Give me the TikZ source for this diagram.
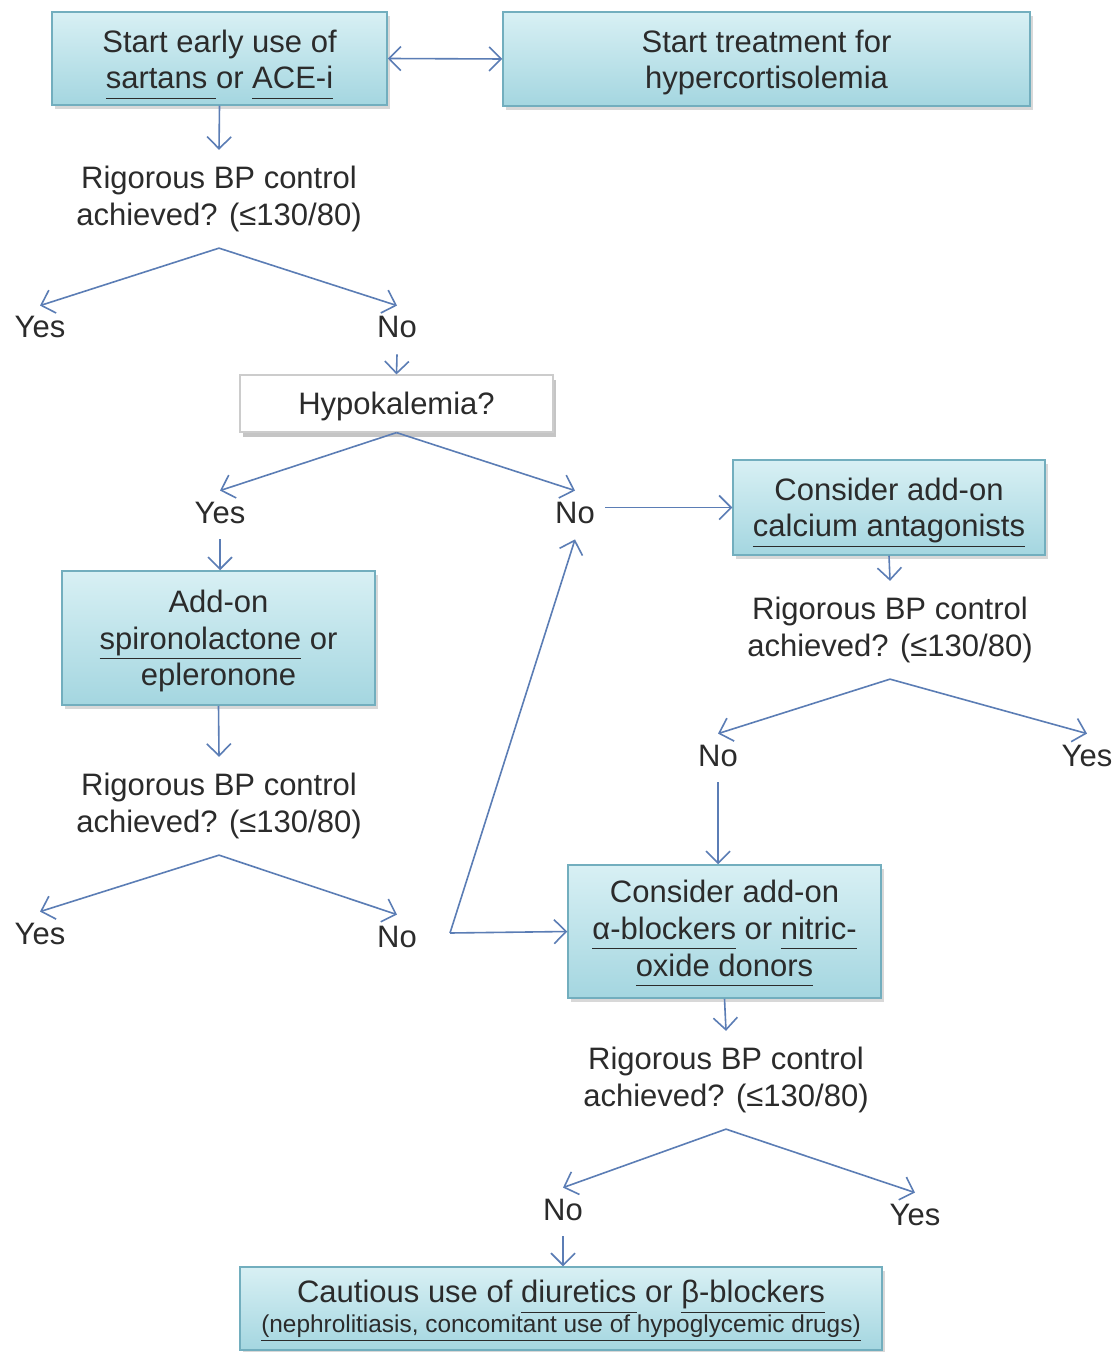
\documentclass[tikz,border=0pt]{standalone}
\usepackage{fontspec}
\setmainfont{Liberation Sans}
\usepackage{xcolor}
\usetikzlibrary{arrows.meta,positioning,shadows}

\definecolor{flowblue}{HTML}{5B7DB5}
\definecolor{boxedge}{HTML}{72AEBE}
\definecolor{boxtop}{HTML}{D8F0F4}
\definecolor{boxbottom}{HTML}{A4D6E0}
\definecolor{inkgray}{HTML}{2B2B2B}

\newcommand{\ulin}[1]{\underline{#1\vphantom{gp}}}
\newcommand{\liftline}[1]{\rule{0pt}{#1}}

\tikzset{
  txt/.style={text=inkgray, align=center, font=\fontsize{15.5}{18.3}\selectfont},
  tealbox/.style={txt, draw=boxedge, line width=0.75pt, top color=boxtop, bottom color=boxbottom, inner sep=0pt,
    drop shadow={shadow xshift=1.5pt, shadow yshift=-2pt, opacity=0.3}},
  whitebox/.style={txt, draw=gray!40, line width=0.6pt, fill=white, inner sep=0pt,
    drop shadow={shadow xshift=1.5pt, shadow yshift=-2.5pt, opacity=0.45}},
  question/.style={txt, inner sep=8pt},
  answer/.style={txt, inner sep=5pt, text height=11pt, text depth=3pt},
  arr/.style={draw=flowblue, line width=0.8pt, -{Straight Barb[length=6pt,width=12pt]}},
  arrboth/.style={arr, {Straight Barb[length=6pt,width=12pt]}-{Straight Barb[length=6pt,width=12pt]}},
}

\begin{document}
\begin{tikzpicture}[x=0.5pt,y=-0.5pt]
\useasboundingbox (0,0) rectangle (1114,1352);
\fill[white] (0,0) rectangle (1114,1352);

\node[tealbox, minimum width=167.5pt, minimum height=46.5pt] (start) at (219.5,58.5) {\liftline{17.3pt}Start early use of\\\ulin{sartans }or \ulin{ACE-i}};
\node[tealbox, minimum width=263.5pt, minimum height=47pt] (cortiso) at (766.5,59) {\liftline{14.8pt}Start treatment for\\hypercortisolemia};
\node[question] (q1) at (219,199) {Rigorous BP control\\achieved? (≤130/80)};
\node[answer] (yes1) at (40,330) {Yes};
\node[answer] (no1) at (397,330) {No};
\node[whitebox, minimum width=156.5pt, minimum height=28.5pt] (hypok) at (396.5,403.5) {\liftline{14.3pt}Hypokalemia?};
\node[answer] (yes2) at (220,515) {Yes};
\node[answer] (no2) at (575,515) {No};
\node[tealbox, minimum width=156pt, minimum height=47.5pt] (calcium) at (889,507.5) {\liftline{16.3pt}Consider add-on\\\ulin{calcium antagonists}};
\node[tealbox, minimum width=156.5pt, minimum height=67pt] (spiro) at (218.5,638) {\liftline{14.3pt}Add-on\\\ulin{spironolactone} or\\epleronone};
\node[question] (q2) at (219,806) {Rigorous BP control\\achieved? (≤130/80)};
\node[answer] (yes3) at (40,936) {Yes};
\node[answer] (no3) at (397,939) {No};
\node[question] (q3) at (890,630) {Rigorous BP control\\achieved? (≤130/80)};
\node[answer] (no4) at (718,758) {No};
\node[answer] (yes4) at (1087,758) {Yes};
\node[tealbox, minimum width=156.5pt, minimum height=66.5pt] (alpha) at (724.5,931.5) {\liftline{13.3pt}Consider add-on\\\ulin{α-blockers} or \ulin{nitric-}\\\ulin{oxide donors}};
\node[question] (q4) at (726,1080) {Rigorous BP control\\achieved? (≤130/80)};
\node[answer] (no5) at (563,1212) {No};
\node[answer] (yes5) at (915,1217) {Yes};
\node[tealbox, minimum width=321pt, minimum height=41.5pt] (cautious) at (561,1308.5) {\liftline{13.8pt}Cautious use of \ulin{diuretics} or \ulin{β-blockers}\\[-3.3pt]{\fontsize{12.2}{14}\selectfont\ulin{(nephrolitiasis, concomitant use of hypoglycemic drugs)}}};
\coordinate (join) at (450,933);

\draw[arrboth] (start.east) -- (cortiso.west);
\draw[arr] (start.south) -- (q1.north);
\draw[arr] (q1.south) -- (yes1.north);
\draw[arr] (q1.south) -- (no1.north);
\draw[arr] (no1.south) -- (hypok.north);
\draw[arr] (hypok.south) -- (yes2.north);
\draw[arr] (hypok.south) -- (no2.north);
\draw[arr] (no2.east |- calcium.west) -- (calcium.west);
\draw[arr] (yes2.south) -- (yes2.south |- spiro.north);
\draw[arr] (spiro.south) -- (q2.north);
\draw[arr] (q2.south) -- (yes3.north);
\draw[arr] (q2.south) -- (no3.north);
\draw[arr] (join) -- (no2.south);
\draw[arr] (join) -- (alpha.west);
\draw[arr] (calcium.south) -- (q3.north);
\draw[arr] (q3.south) -- (no4.north);
\draw[arr] (q3.south) -- (yes4.north);
\draw[arr] (no4.south) -- (no4.south |- alpha.north);
\draw[arr] (alpha.south) -- (q4.north);
\draw[arr] (q4.south) -- (no5.north);
\draw[arr] (q4.south) -- (yes5.north);
\draw[arr] (no5.south) -- (no5.south |- cautious.north);
\end{tikzpicture}
\end{document}
